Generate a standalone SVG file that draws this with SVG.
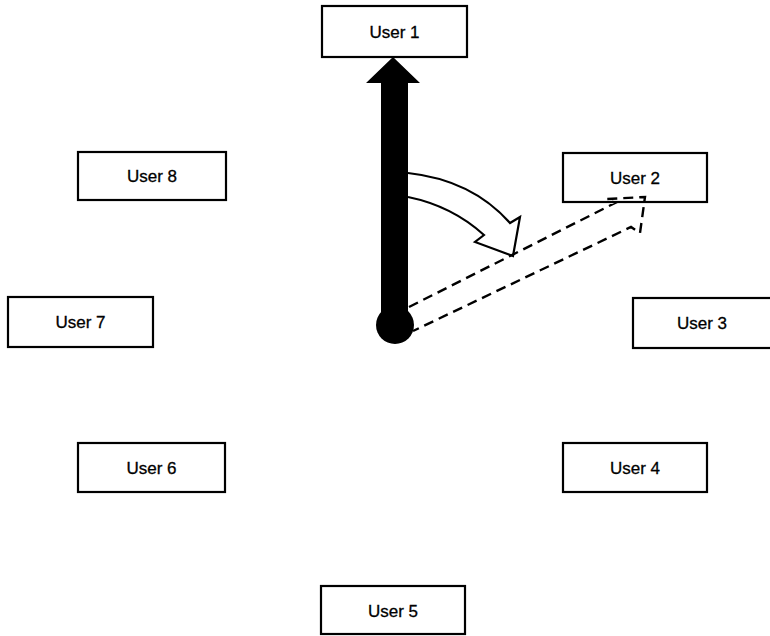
<svg xmlns="http://www.w3.org/2000/svg" width="770" height="636" viewBox="0 0 770 636">
<style>
.box{fill:#fff;stroke:#000;stroke-width:2.2}
.lbl{font-family:"Liberation Sans",Arial,sans-serif;font-size:17px;fill:#000;stroke:#000;stroke-width:0.3;text-anchor:middle;dominant-baseline:central}
.dash{fill:none;stroke:#000;stroke-width:2.4;stroke-dasharray:10 6}
</style>
<rect width="770" height="636" fill="#fff"/>
<g id="user1"><rect class="box" x="322" y="6" width="145" height="51"/><text class="lbl" x="394.5" y="32">User 1</text></g>
<g id="user2"><rect class="box" x="563" y="153" width="144" height="49"/><text class="lbl" x="635" y="178">User 2</text></g>
<g id="user3"><rect class="box" x="633" y="298" width="140" height="50"/><text class="lbl" x="702" y="323">User 3</text></g>
<g id="user4"><rect class="box" x="563" y="443" width="144" height="49"/><text class="lbl" x="635" y="468">User 4</text></g>
<g id="user5"><rect class="box" x="321" y="586" width="144" height="48"/><text class="lbl" x="393" y="611">User 5</text></g>
<g id="user6"><rect class="box" x="78" y="443" width="147" height="49"/><text class="lbl" x="151.5" y="468">User 6</text></g>
<g id="user7"><rect class="box" x="8" y="297" width="145" height="50"/><text class="lbl" x="80.5" y="322">User 7</text></g>
<g id="user8"><rect class="box" x="78" y="152" width="148" height="48"/><text class="lbl" x="152" y="176">User 8</text></g>
<g id="connectors">
<path d="M381,326 L381,83 L366,83 L393,57 L420,83 L408,83 L408,326 Z" fill="#000"/>
<circle cx="395" cy="325" r="19" fill="#000"/>
<path d="M408,173 Q472,180 510,223 L520,217 L513,256 L475,242 L484,235 Q452,206 408,197" fill="#fff" stroke="#000" stroke-width="2.2" stroke-linejoin="miter"/>
<path class="dash" d="M409,307 L615,203 L607,199 L645,197 L640,233 L631,227 L413,331"/>
</g>
</svg>
